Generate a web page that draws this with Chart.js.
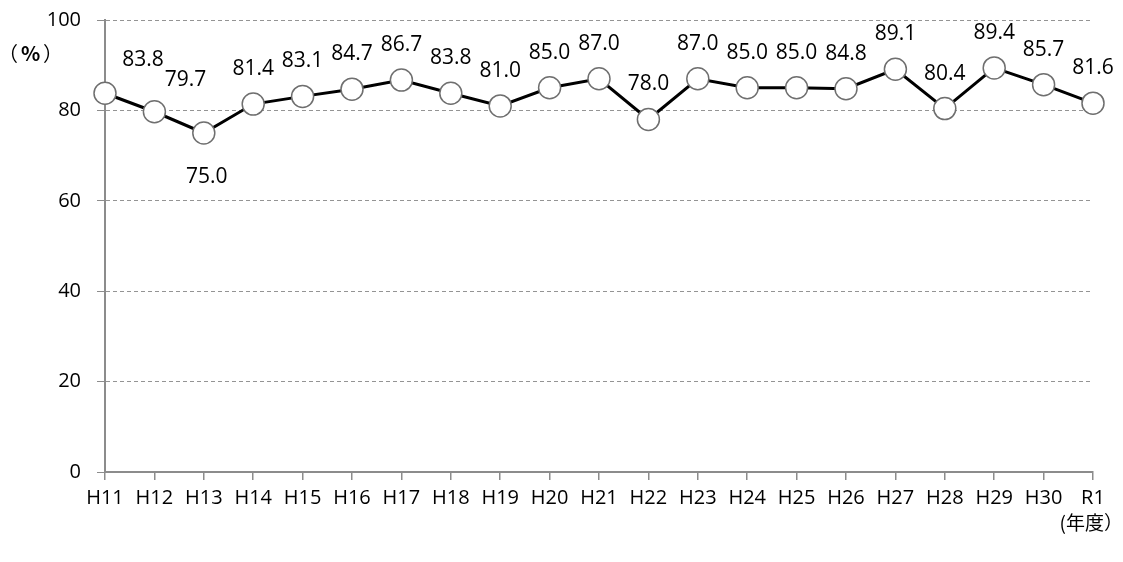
<!DOCTYPE html>
<html>
<head>
<meta charset="utf-8">
<script src="https://cdn.jsdelivr.net/npm/chart.js@4/dist/chart.umd.min.js"></script>
<style>
  html, body { margin: 0; padding: 0; background: #fff; }
  #wrap { width: 1123px; height: 562px; position: relative; }
</style>
</head>
<body>
<div id="wrap"><canvas id="chart"></canvas></div>
<script>
const years = ['H11', 'H12', 'H13', 'H14', 'H15', 'H16', 'H17', 'H18', 'H19', 'H20', 'H21',
               'H22', 'H23', 'H24', 'H25', 'H26', 'H27', 'H28', 'H29', 'H30', 'R1'];
const rates = [83.8, 79.7, 75.0, 81.4, 83.1, 84.7, 86.7, 83.8, 81.0, 85.0, 87.0,
               78.0, 87.0, 85.0, 85.0, 84.8, 89.1, 80.4, 89.4, 85.7, 81.6];
const yTicks = [0, 20, 40, 60, 80, 100];

// label nudges (dx, dy) relative to the default spot above each marker
const labelNudge = { 0: [38, 2], 1: [31, 3], 2: [3, 79] };

const FONT = '"Open Sans", "Noto Sans", sans-serif';

const pointLabels = {
  id: 'pointLabels',
  afterDatasetsDraw(chart) {
    const ctx = chart.ctx;
    const meta = chart.getDatasetMeta(0);
    ctx.save();
    ctx.font = '21px ' + FONT;
    ctx.fillStyle = '#000';
    ctx.textAlign = 'center';
    ctx.textBaseline = 'middle';
    meta.data.forEach((pt, i) => {
      const n = labelNudge[i] || [0, 0];
      ctx.fillText(rates[i].toFixed(1), pt.x + n[0], pt.y - 35 + n[1]);
    });
    ctx.restore();
  }
};

const unitLabels = {
  id: 'unitLabels',
  afterDraw(chart) {
    const ctx = chart.ctx;
    ctx.save();
    ctx.fillStyle = '#000';
    ctx.textBaseline = 'middle';
    ctx.textAlign = 'left';
    ctx.font = '20px "Noto Sans CJK JP", sans-serif';
    ctx.fillText('（', -2, 53);
    ctx.font = 'bold 20px "Noto Sans CJK JP", sans-serif';
    ctx.fillText('%', 21, 53);
    ctx.font = '20px "Noto Sans CJK JP", sans-serif';
    ctx.fillText('）', 43, 53);
    ctx.textAlign = 'right';
    ctx.font = '19px "Noto Sans CJK JP", sans-serif';
    ctx.fillText('(年度）', 1123, 523);
    ctx.restore();
  }
};

new Chart(document.getElementById('chart'), {
  type: 'line',
  data: {
    labels: years,
    datasets: [{
      data: rates,
      borderColor: '#000',
      borderWidth: 3,
      pointRadius: 11,
      pointHoverRadius: 11,
      pointBackgroundColor: '#fff',
      pointBorderColor: '#6f6f6f',
      pointBorderWidth: 1.5,
      tension: 0
    }]
  },
  options: {
    responsive: true,
    maintainAspectRatio: false,
    animation: false,
    layout: { padding: { top: 20, right: 30, left: 0, bottom: 0 } },
    plugins: { legend: { display: false }, tooltip: { enabled: false } },
    scales: {
      x: {
        offset: false,
        grid: { drawOnChartArea: false, tickLength: 8, color: '#8c8c8c', lineWidth: 1.5 },
        border: { color: '#8c8c8c', width: 2 },
        ticks: { color: '#000', font: { family: FONT, size: 20 }, padding: 6, maxRotation: 0, autoSkip: false },
        afterFit(s) { s.height = 90; }
      },
      y: {
        min: 0,
        max: 100,
        afterBuildTicks(s) { s.ticks = yTicks.map(v => ({ value: v })); },
        grid: { color: '#949494', lineWidth: 1, tickLength: 8, tickColor: '#8c8c8c' },
        border: { color: '#8c8c8c', width: 2, dash: [4, 3] },
        ticks: { color: '#000', font: { family: FONT, size: 20 }, padding: 16 },
        afterFit(s) {
          s.width = 105;
          s.paddingTop = 0;
          s.paddingBottom = 0;
        }
      }
    }
  },
  plugins: [pointLabels, unitLabels]
});
</script>
</body>
</html>
